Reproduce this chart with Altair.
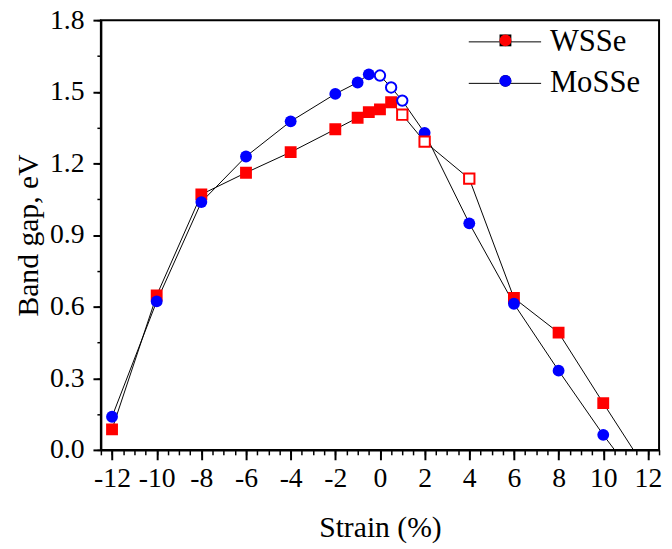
import altair as alt
import pandas as pd

# ---- data ----
strain = [-12, -10, -8, -6, -4, -2, -1, -0.5, 0, 0.5, 1, 2, 4, 6, 8, 10, 12]
wsse = [0.086, 0.647, 1.070, 1.161, 1.247, 1.343, 1.391, 1.415, 1.426, 1.456,
        1.404, 1.291, 1.136, 0.636, 0.491, 0.196, -0.094]
mosse = [0.139, 0.622, 1.038, 1.229, 1.376, 1.491, 1.539, 1.573, 1.568, 1.518,
         1.463, 1.328, 0.949, 0.612, 0.332, 0.063, -0.185]
wsse_hollow = [1, 2, 4]
mosse_hollow = [0, 0.5, 1]
series = ["WSSe", "MoSSe"]
colors = ["#ff0000", "#0000ff"]
shapes = ["square", "circle"]
x_major = list(range(-12, 13, 2))
x_minor = [v / 2 for v in range(-25, 26)]
y_major = [0, 0.3, 0.6, 0.9, 1.2, 1.5, 1.8]
y_minor = [round(0.15 * i, 2) for i in range(13)]

rows = []
for name, vals, hollow in [("WSSe", wsse, wsse_hollow), ("MoSSe", mosse, mosse_hollow)]:
    for s, v in zip(strain, vals):
        rows.append({"line_series": name, "series": name, "strain": s, "gap": v,
                     "hollow": s in hollow})
df = pd.DataFrame(rows)

FONT = "Times New Roman, Liberation Serif, Tinos, serif"
xscale = alt.Scale(domain=[-12.5, 12.5], nice=False, zero=False)
yscale = alt.Scale(domain=[0, 1.8], nice=False, zero=False)

major_x = alt.Axis(values=x_major, title="Strain (%)", orient="bottom",
                   labelExpr="datum.value < 0 ? '-' + abs(datum.value) : '' + datum.value",
                   titleFont=FONT, titleFontSize=30, titleFontWeight="normal", titleColor="black",
                   labelFont=FONT, labelFontSize=28, labelColor="black", labelPadding=5,
                   labelFlush=False, labelOverlap=False, titlePadding=21,
                   tickSize=10, tickWidth=2, tickColor="black",
                   domainColor="black", domainWidth=2, grid=False)
minor_x = alt.Axis(values=x_minor, title=None, orient="bottom", labels=False,
                   tickSize=5, tickWidth=1.5, tickColor="black", domain=False, grid=False)
major_y = alt.Axis(values=y_major, format=".1f", title="Band gap, eV", orient="left",
                   titleFont=FONT, titleFontSize=30, titleFontWeight="normal", titleColor="black",
                   labelFont=FONT, labelFontSize=28, labelColor="black", labelPadding=9,
                   titlePadding=6, tickSize=8, tickWidth=2, tickColor="black",
                   domainColor="black", domainWidth=2, grid=False)
minor_y = alt.Axis(values=y_minor, title=None, orient="left", labels=False,
                   tickSize=4, tickWidth=1.5, tickColor="black", domain=False, grid=False)

line = alt.Chart(df).mark_line(clip=True, strokeWidth=1).encode(
    x=alt.X("strain:Q", scale=xscale, axis=major_x),
    y=alt.Y("gap:Q", scale=yscale, axis=major_y),
    stroke=alt.Stroke("line_series:N",
                      scale=alt.Scale(domain=series, range=["black", "black"]),
                      legend=alt.Legend(title=None, orient="none", legendX=393.5, legendY=6.5,
                                        symbolType="M-6.1,0H-0.9M0.9,0H6.1", symbolSize=144,
                                        symbolStrokeWidth=1, labelFont=FONT, labelFontSize=31,
                                        labelColor="black", labelOffset=30, rowPadding=10,
                                        padding=0, labelLimit=0)),
    order="strain:Q",
)

marker_legend = alt.Legend(title=None, orient="none", legendX=403.5, legendY=14.5,
                           symbolSize=144, symbolStrokeWidth=0, labelOpacity=0,
                           labelFontSize=1, rowPadding=29, padding=0)

filled = alt.Chart(df).transform_filter("!datum.hollow").mark_point(
    filled=True, size=144, opacity=1, clip=True).encode(
    x=alt.X("strain:Q", scale=xscale, axis=minor_x),
    y=alt.Y("gap:Q", scale=yscale, axis=minor_y),
    fill=alt.Fill("series:N", sort=series, scale=alt.Scale(range=colors), legend=marker_legend),
    shape=alt.Shape("series:N", sort=series, scale=alt.Scale(range=shapes), legend=marker_legend),
)

hollow = alt.Chart(df).transform_filter("datum.hollow").mark_point(
    filled=False, fill="white", fillOpacity=1, strokeWidth=2, size=110, opacity=1, clip=True).encode(
    x=alt.X("strain:Q", scale=xscale, axis=None),
    y=alt.Y("gap:Q", scale=yscale, axis=None),
    color=alt.Color("series:N", sort=series, scale=alt.Scale(range=colors), legend=None),
    shape=alt.Shape("series:N", sort=series, scale=alt.Scale(range=shapes), legend=None),
)

chart = alt.layer(line, filled, hollow).resolve_axis(x="independent", y="independent").properties(
    width=565, height=435,
    autosize=alt.AutoSizeParams(type="none"),
    padding={"left": 94, "top": 9, "right": 5, "bottom": 95},
).configure_view(stroke="black", strokeWidth=2)

chart.save("out.html", embed_options={"renderer": "svg", "actions": False})
